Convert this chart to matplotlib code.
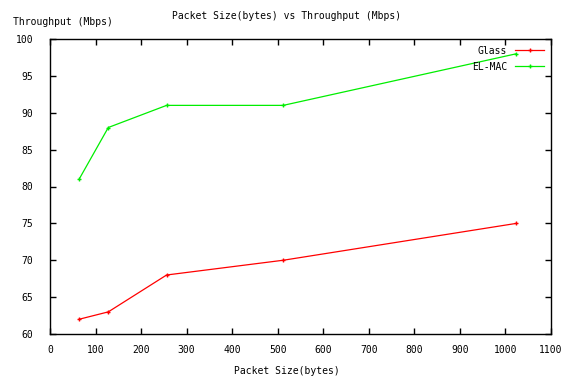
import matplotlib
matplotlib.use('Agg')
import matplotlib.pyplot as plt

# packet sizes and throughput values
packet_size = [64, 128, 256, 512, 1024]
glass = [62, 63, 68, 70, 75]
elmac = [81, 88, 91, 91, 98]

plt.rcParams['font.family'] = 'DejaVu Sans Mono'
plt.rcParams['font.size'] = 7

fig = plt.figure(figsize=(5.73, 3.78), dpi=100)
ax = fig.add_axes([50/573, 44/378, 501/573, 295/378])

ax.plot(packet_size, glass, color='#ff0000', marker='+', markersize=3.5, linewidth=0.9, label='Glass')
ax.plot(packet_size, elmac, color='#00ee00', marker='+', markersize=3.5, linewidth=0.9, label='EL-MAC')

ax.set_xlim(0, 1100)
ax.set_ylim(60, 100)
ax.set_xticks(range(0, 1101, 100))
ax.set_yticks(range(60, 101, 5))
ax.tick_params(direction='in', top=True, right=True, length=4, width=1)
ax.tick_params(axis='x', pad=8)
ax.tick_params(axis='y', pad=12)
for s in ax.spines.values():
    s.set_linewidth(1)

fig.text(0.5, 1 - 16/378, 'Packet Size(bytes) vs Throughput (Mbps)', ha='center', va='center')
fig.text(13/573, 1 - 22/378, 'Throughput (Mbps)', ha='left', va='center')
fig.text(0.5, 1 - 371/378, 'Packet Size(bytes)', ha='center', va='center')

ax.legend(loc='upper right', frameon=False, markerfirst=False, handlelength=3,
          borderaxespad=0.3, labelspacing=0.6)

fig.savefig('out.png', dpi=100)
